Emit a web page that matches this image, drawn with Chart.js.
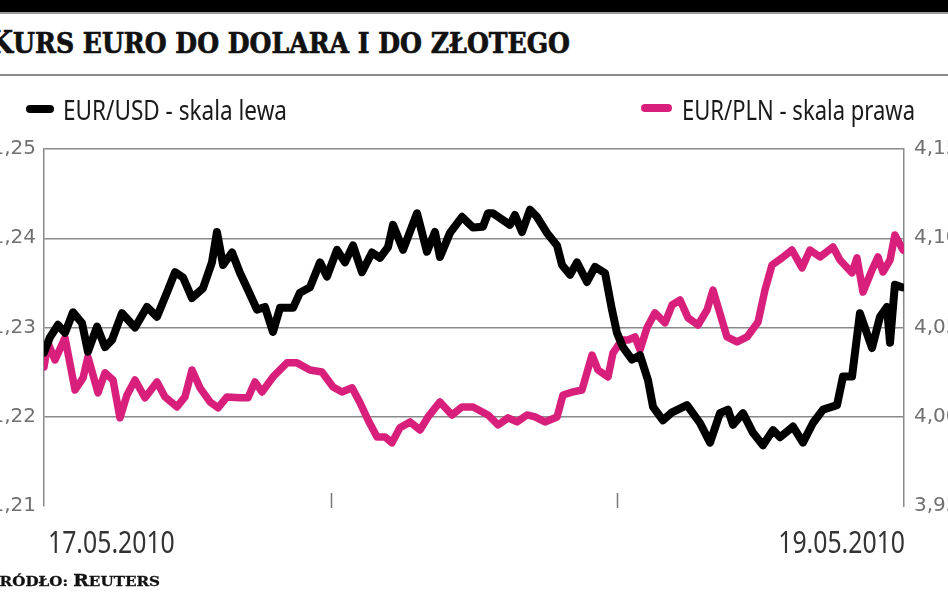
<!DOCTYPE html>
<html>
<head>
<meta charset="utf-8">
<script src="https://cdn.jsdelivr.net/npm/chart.js@4"></script>
<style>
  html, body { margin: 0; padding: 0; background: #fff; }
  body { width: 948px; height: 593px; position: relative; overflow: hidden; }
  #topbar { position: absolute; left: 0; top: 0; width: 948px; height: 12px; background: #000; border-bottom: 2px solid #9a9a9a; }
  .fit { position: absolute; white-space: nowrap; transform-origin: left top; }
  #title { left: -12px; top: 27px; line-height: 31px; font-family: "DejaVu Serif", serif; font-weight: bold; color: #111; -webkit-text-stroke: 0.7px #111; }
  #title .big { font-size: 31px; }
  #title .small { font-size: 27px; text-transform: uppercase; }
  #rule { position: absolute; left: 0; top: 74px; width: 948px; height: 2px; background: #8a8a8a; }
  .leg { top: 95px; height: 28px; line-height: 28px; font-family: "Noto Sans", sans-serif; font-size: 28px; color: #1a1a1a; }
  .swatch { position: absolute; height: 8px; border-radius: 4px; }
  #source { left: -14px; top: 572px; line-height: 17px; font-family: "DejaVu Serif", serif; font-weight: bold; color: #111; -webkit-text-stroke: 0.3px #111; }
  #source .big { font-size: 16px; }
  #source .small { font-size: 13px; text-transform: uppercase; }
  #wrap { position: absolute; left: -14px; top: 0; width: 974px; height: 593px; }
</style>
</head>
<body>
<div id="topbar"></div>
<div class="fit" id="title" data-w="582"><span class="big">K</span><span class="small">urs euro do dolara i do złotego</span></div>
<div id="rule"></div>
<div id="wrap"><canvas id="chart"></canvas></div>
<div class="swatch" style="left:26px; top:105px; width:28px; background:#000;"></div>
<div class="fit leg" id="leg1" data-w="224" style="left:63px;">EUR/USD - skala lewa</div>
<div class="swatch" style="left:641px; top:104px; width:31px; background:#d81f7c;"></div>
<div class="fit leg" id="leg2" data-w="233" style="left:682px;">EUR/PLN - skala prawa</div>
<div class="fit" id="source" data-w="174"><span class="big">Ź</span><span class="small">ródło: </span><span class="big">R</span><span class="small">euters</span></div>
<script>
// czas w godzinach od początku osi (0 = 17.05.2010, 72 = koniec osi)
var usdHours = [0, 0.5, 1.17, 1.76, 2.43, 3.18, 3.68, 4.44, 5.11, 5.69, 6.53, 7.62, 8.62, 9.46, 10.38, 10.97, 11.64, 12.39, 13.31, 14.06,
  14.48, 14.99, 15.74, 16.41, 17.08, 17.83, 18.5, 19.17, 19.76, 20.85, 21.43, 22.27, 23.11, 23.69, 24.53, 25.2, 25.87, 26.62, 27.46, 28.13,
  28.8, 29.22, 30.06, 31.23, 32.06, 32.73, 33.15, 33.99, 35.0, 35.92, 36.75, 37.17, 37.59, 39.01, 39.43, 40.02, 40.69, 41.27, 42.11, 42.95,
  43.37, 44.04, 44.62, 45.46, 46.13, 46.97, 47.55, 47.97, 48.47, 49.23, 49.9, 50.57, 50.99, 51.82, 52.58, 53.83, 54.92, 55.76, 56.59, 57.26,
  57.68, 58.52, 59.36, 60.19, 61.03, 61.62, 62.71, 63.54, 64.38, 65.22, 66.39, 66.89, 67.65, 68.31, 69.32, 69.99, 70.57, 70.83, 71.24, 71.83];
var eurUsd = [1.2272, 1.2289, 1.2303, 1.2294, 1.2317, 1.2305, 1.2273, 1.2301, 1.2278, 1.2286, 1.2316, 1.2300, 1.2323, 1.2312, 1.2342, 1.2362, 1.2356, 1.2333, 1.2344, 1.2373,
  1.2407, 1.2370, 1.2384, 1.2361, 1.2342, 1.2320, 1.2323, 1.2295, 1.2322, 1.2322, 1.2339, 1.2345, 1.2373, 1.2357, 1.2387, 1.2373, 1.2392, 1.2362, 1.2384, 1.2378,
  1.2390, 1.2415, 1.2387, 1.2428, 1.2385, 1.2407, 1.2379, 1.2406, 1.2424, 1.2412, 1.2413, 1.2428, 1.2428, 1.2415, 1.2426, 1.2407, 1.2432, 1.2424, 1.2406, 1.2392,
  1.2370, 1.2359, 1.2373, 1.2351, 1.2368, 1.2361, 1.2320, 1.2294, 1.2278, 1.2264, 1.2269, 1.2241, 1.2211, 1.2196, 1.2205, 1.2213, 1.2193, 1.2171, 1.2204, 1.2208,
  1.2191, 1.2204, 1.2182, 1.2168, 1.2185, 1.2177, 1.2189, 1.2171, 1.2193, 1.2208, 1.2213, 1.2245, 1.2245, 1.2316, 1.2277, 1.2312, 1.2323, 1.2283, 1.2348, 1.2345];

var plnHours = [0, 0.33, 0.92, 1.76, 2.6, 3.27, 3.68, 4.52, 5.11, 5.78, 6.36, 6.95, 7.62, 8.46, 9.46, 10.13, 11.13, 11.8, 12.39, 13.06,
  13.9, 14.57, 15.32, 16.41, 17.08, 17.66, 18.25, 19.17, 20.34, 21.18, 22.27, 23.27, 24.2, 24.95, 25.79, 26.46, 27.13, 27.88, 28.55, 29.13,
  29.8, 30.64, 31.48, 32.15, 33.15, 34.16, 35.0, 35.92, 37.17, 38.01, 38.85, 39.6, 40.44, 41.11, 41.94, 42.95, 43.45, 44.29, 45.04, 45.88,
  46.38, 47.22, 47.64, 48.39, 48.89, 49.48, 49.9, 50.48, 51.15, 51.99, 52.58, 53.25, 53.92, 54.75, 55.51, 56.01, 56.43, 57.18, 58.02, 58.86,
  59.78, 60.36, 60.95, 61.79, 62.62, 63.46, 64.13, 64.97, 66.06, 66.64, 67.65, 68.06, 68.57, 69.32, 69.82, 70.24, 70.83, 71.24, 71.92];
var eurPln = [4.0279, 4.0414, 4.0318, 4.0442, 4.0150, 4.0218, 4.0335, 4.0134, 4.0246, 4.0206, 3.9994, 4.0122, 4.0206, 4.0106, 4.0195, 4.0111, 4.0055, 4.0111, 4.0262, 4.0162,
  4.0083, 4.0050, 4.0111, 4.0106, 4.0106, 4.0195, 4.0139, 4.0223, 4.0302, 4.0302, 4.0262, 4.0251, 4.0167, 4.0139, 4.0162, 4.0078, 3.9982, 3.9887, 3.9887, 3.9854,
  3.9938, 3.9971, 3.9926, 3.9999, 4.0083, 4.0010, 4.0055, 4.0055, 4.0010, 3.9954, 3.9994, 3.9971, 4.0010, 3.9999, 3.9971, 3.9999, 4.0122, 4.0139, 4.0150, 4.0346,
  4.0262, 4.0223, 4.0358, 4.0430, 4.0430, 4.0447, 4.0374, 4.0498, 4.0582, 4.0526, 4.0626, 4.0654, 4.0554, 4.0514, 4.0598, 4.0710, 4.0615, 4.0447, 4.0419, 4.0447,
  4.0531, 4.0710, 4.0850, 4.0890, 4.0934, 4.0834, 4.0934, 4.0895, 4.0951, 4.0878, 4.0806, 4.0890, 4.0699, 4.0822, 4.0895, 4.0811, 4.0878, 4.1018, 4.0934];

var xTickLabels = { 0: "17.05.2010", 72: "19.05.2010" };
var xMarks = [24, 48];

// ściśnięcie tekstów HTML do szerokości z oryginału
var fits = document.querySelectorAll(".fit");
for (var f = 0; f < fits.length; f++) {
  var el = fits[f];
  var w = el.getBoundingClientRect().width;
  el.style.transform = "scaleX(" + (parseFloat(el.dataset.w) / w) + ")";
}

function toPoints(xs, ys) {
  var pts = [];
  for (var i = 0; i < xs.length; i++) {
    pts.push({ x: xs[i], y: ys[i] });
  }
  return pts;
}

function comma(v) {
  return v.toFixed(2).replace(".", ",");
}

// kreski na osi X i wąskie podpisy dat
var xAxisPlugin = {
  id: "xaxis",
  afterDraw: function(chart) {
    var ctx = chart.ctx;
    var x = chart.scales.x;
    var bottom = chart.chartArea.bottom;
    ctx.save();
    ctx.strokeStyle = "#777";
    ctx.lineWidth = 1.5;
    for (var i = 0; i < xMarks.length; i++) {
      var px = Math.round(x.getPixelForValue(xMarks[i])) + 0.5;
      ctx.beginPath();
      ctx.moveTo(px, bottom - 13);
      ctx.lineTo(px, bottom + 2);
      ctx.stroke();
    }
    ctx.fillStyle = "#333";
    ctx.font = "31px 'Noto Sans'";
    ctx.textBaseline = "alphabetic";
    var sx = 0.8;
    for (var key in xTickLabels) {
      var v = Number(key);
      var text = xTickLabels[key];
      var tw = ctx.measureText(text).width * sx;
      var lx = x.getPixelForValue(v);
      if (v === x.min) lx += 4; else lx -= tw - 1;
      ctx.save();
      ctx.translate(lx, bottom + 47);
      ctx.scale(sx, 1);
      ctx.fillText(text, 0, 0);
      ctx.restore();
    }
    ctx.restore();
  }
};

var tickFont = { family: "DejaVu Sans", size: 20 };

new Chart(document.getElementById("chart"), {
  type: "line",
  data: {
    datasets: [
      {
        label: "EUR/USD - skala lewa",
        data: toPoints(usdHours, eurUsd),
        yAxisID: "yL",
        borderColor: "#000",
        borderWidth: 8,
        pointRadius: 0,
        tension: 0,
        borderJoinStyle: "round",
        borderCapStyle: "round"
      },
      {
        label: "EUR/PLN - skala prawa",
        data: toPoints(plnHours, eurPln),
        yAxisID: "yR",
        borderColor: "#d81f7c",
        borderWidth: 7.5,
        pointRadius: 0,
        tension: 0,
        borderJoinStyle: "round",
        borderCapStyle: "round"
      }
    ]
  },
  options: {
    responsive: true,
    maintainAspectRatio: false,
    animation: false,
    layout: { padding: { top: 149, left: 0, right: 0, bottom: 0 } },
    plugins: {
      legend: { display: false },
      tooltip: { enabled: false }
    },
    scales: {
      x: {
        type: "linear",
        min: 0,
        max: 72,
        grid: { display: false, drawTicks: false },
        border: { display: false },
        afterFit: function(scale) { scale.height = 87; },
        ticks: { display: false, stepSize: 24 }
      },
      yL: {
        position: "left",
        min: 1.21,
        max: 1.25,
        afterFit: function(scale) { scale.width = 58; },
        grid: {
          drawTicks: false,
          lineWidth: 1.5,
          color: function(c) { return c.tick && c.tick.value < 1.215 ? "rgba(0,0,0,0)" : "#8a8a8a"; }
        },
        border: { display: true, color: "#8a8a8a", width: 1.5 },
        ticks: {
          stepSize: 0.01,
          padding: 8,
          color: "#707070",
          font: tickFont,
          callback: function(v) { return comma(v); }
        }
      },
      yR: {
        position: "right",
        min: 3.95,
        max: 4.15,
        afterFit: function(scale) { scale.width = 56; },
        grid: { drawOnChartArea: false, drawTicks: false },
        border: { display: true, color: "#8a8a8a", width: 1.5 },
        ticks: {
          stepSize: 0.05,
          padding: 10,
          color: "#707070",
          font: tickFont,
          callback: function(v) { return comma(v); }
        }
      }
    }
  },
  plugins: [xAxisPlugin]
});
</script>
</body>
</html>
